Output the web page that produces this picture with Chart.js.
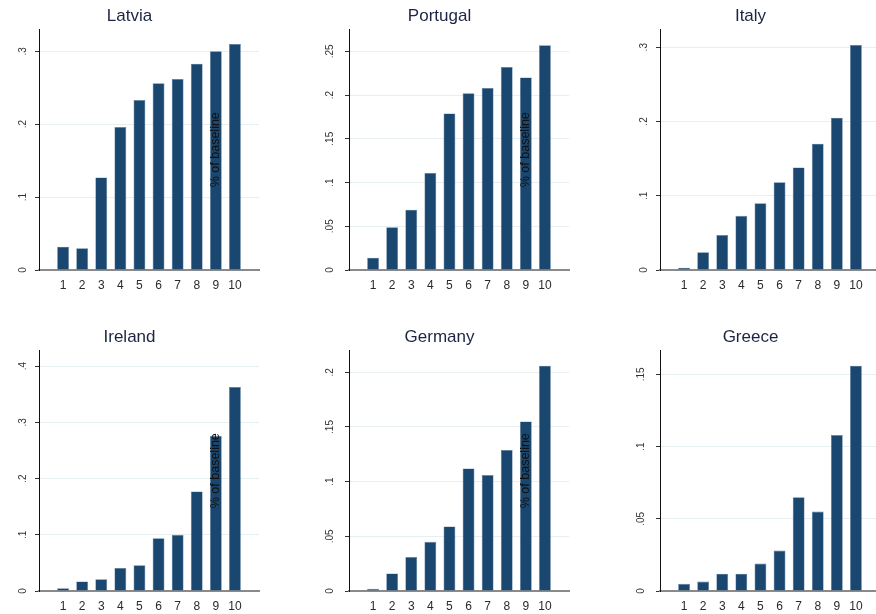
<!DOCTYPE html>
<html>
<head>
<meta charset="utf-8">
<script src="https://cdn.jsdelivr.net/npm/chart.js@4"></script>
<style>
  html, body { margin: 0; padding: 0; background: #ffffff; }
  body { width: 876px; height: 614px; overflow: hidden; position: relative; }
  .panel { position: absolute; width: 310px; height: 320px; }
</style>
</head>
<body>
<div class="panel" style="left:0px;top:0px"><canvas id="c0"></canvas></div>
<div class="panel" style="left:310px;top:0px"><canvas id="c1"></canvas></div>
<div class="panel" style="left:621px;top:0px"><canvas id="c2"></canvas></div>
<div class="panel" style="left:0px;top:321px"><canvas id="c3"></canvas></div>
<div class="panel" style="left:310px;top:321px"><canvas id="c4"></canvas></div>
<div class="panel" style="left:621px;top:321px"><canvas id="c5"></canvas></div>
<script>
// Income deciles on the horizontal axis
const deciles = ['1', '2', '3', '4', '5', '6', '7', '8', '9', '10'];

// Share of baseline, by decile
const latvia   = [0.032, 0.030, 0.127, 0.196, 0.233, 0.256, 0.262, 0.283, 0.300, 0.310];
const portugal = [0.014, 0.049, 0.069, 0.111, 0.179, 0.202, 0.208, 0.232, 0.220, 0.257];
const italy    = [0.003, 0.024, 0.047, 0.073, 0.090, 0.118, 0.138, 0.170, 0.205, 0.303];
const ireland  = [0.005, 0.017, 0.021, 0.041, 0.046, 0.094, 0.100, 0.177, 0.276, 0.363];
const germany  = [0.002, 0.016, 0.031, 0.045, 0.059, 0.112, 0.106, 0.129, 0.155, 0.206];
const greece   = [0.005, 0.0065, 0.012, 0.012, 0.019, 0.028, 0.065, 0.055, 0.108, 0.156];

// Y-axis tick values per country
const latviaTicks   = [0, 0.1, 0.2, 0.3];
const portugalTicks = [0, 0.05, 0.1, 0.15, 0.2, 0.25];
const italyTicks    = [0, 0.1, 0.2, 0.3];
const irelandTicks  = [0, 0.1, 0.2, 0.3, 0.4];
const germanyTicks  = [0, 0.05, 0.1, 0.15, 0.2];
const greeceTicks   = [0, 0.05, 0.1, 0.15];

// Upper end of each y-axis
const latviaMax = 0.330, portugalMax = 0.275, italyMax = 0.324;
const irelandMax = 0.428, germanyMax = 0.220, greeceMax = 0.1666;

const FONT = '"Liberation Sans", Arial, Helvetica, sans-serif';
const BAR = '#1a476f';

// Stata-style number format: 0, .05, .1
function fmt(v) {
  if (v === 0) return '0';
  let s = (Math.round(v * 1000) / 1000).toString();
  return s.replace(/^0\./, '.');
}

// Vertical axis caption written inside the plot region
const axisCaption = {
  id: 'axisCaption',
  afterDatasetsDraw(chart, args, opts) {
    if (!opts.show) return;
    const a = chart.chartArea;
    const ctx = chart.ctx;
    ctx.save();
    ctx.translate(a.left + 177, (a.top + a.bottom) / 2);
    ctx.rotate(-Math.PI / 2);
    ctx.font = '12.5px ' + FONT;
    ctx.fillStyle = '#111111';
    ctx.textAlign = 'center';
    ctx.textBaseline = 'middle';
    ctx.fillText('% of baseline', 0, 0);
    ctx.restore();
  }
};

function panel(id, title, values, ticks, yMax, caption) {
  new Chart(document.getElementById(id), {
    type: 'bar',
    data: {
      datasets: [{
        data: values.map((v, i) => ({ x: i + 1, y: v })),
        backgroundColor: BAR,
        borderColor: '#5c7f9f',
        borderWidth: 0.6,
        barPercentage: 0.62,
        categoryPercentage: 1.0
      }]
    },
    options: {
      responsive: true,
      maintainAspectRatio: false,
      animation: false,
      events: [],
      layout: { padding: { left: 0, right: 51, top: 0, bottom: 0 } },
      plugins: {
        legend: { display: false },
        tooltip: { enabled: false },
        title: {
          display: true,
          text: title,
          color: '#1c2444',
          font: { family: FONT, size: 17, weight: 'normal' },
          padding: { top: 6, bottom: 3 }
        },
        axisCaption: { show: caption }
      },
      scales: {
        x: {
          type: 'linear',
          offset: false,
          min: -0.26,
          max: 11.26,
          afterBuildTicks(scale) {
            scale.ticks = deciles.map((d, i) => ({ value: i + 1 }));
          },
          afterFit(scale) { scale.height = 50; },
          grid: { display: false, drawTicks: false },
          border: { display: true, color: '#8a8a8a', width: 2 },
          ticks: {
            autoSkip: false,
            maxRotation: 0,
            padding: 8,
            color: '#2a2a2a',
            font: { family: FONT, size: 12 },
            callback: (v) => deciles[v - 1]
          }
        },
        y: {
          min: 0,
          max: yMax,
          afterBuildTicks(scale) {
            scale.ticks = ticks.map(v => ({ value: v }));
          },
          afterFit(scale) { scale.width = 39; },
          grid: {
            color: '#e6eff1',
            lineWidth: 1,
            drawTicks: true,
            tickLength: 4,
            tickColor: '#333333'
          },
          border: { display: true, color: '#111111', width: 1 },
          ticks: {
            minRotation: 90,
            maxRotation: 90,
            crossAlign: 'center',
            padding: 8,
            color: '#333333',
            font: { family: FONT, size: 10 },
            callback: (v) => fmt(v)
          }
        }
      }
    },
    plugins: [axisCaption]
  });
}

panel('c0', 'Latvia',   latvia,   latviaTicks,   latviaMax,   true);
panel('c1', 'Portugal', portugal, portugalTicks, portugalMax, true);
panel('c2', 'Italy',    italy,    italyTicks,    italyMax,    false);
panel('c3', 'Ireland',  ireland,  irelandTicks,  irelandMax,  true);
panel('c4', 'Germany',  germany,  germanyTicks,  germanyMax,  true);
panel('c5', 'Greece',   greece,   greeceTicks,   greeceMax,   false);
</script>
</body>
</html>
